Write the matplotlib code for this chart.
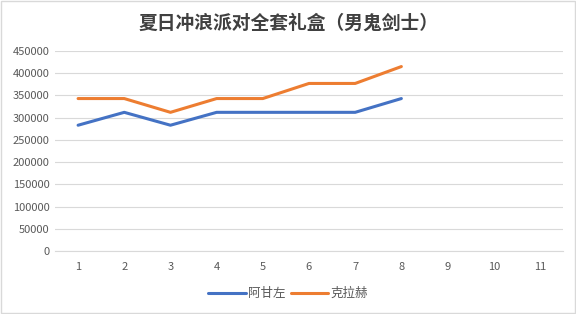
import matplotlib
matplotlib.use("Agg")
import matplotlib.pyplot as plt
from matplotlib.patches import Rectangle

plt.rcParams['font.family'] = ['Noto Sans CJK SC', 'DejaVu Sans']

title = "夏日冲浪派对全套礼盒（男鬼剑士）"
categories = [str(i) for i in range(1, 12)]
series_names = ["阿甘左", "克拉赫"]
agan = [283000, 312000, 283000, 312000, 312000, 312000, 312000, 343000]
kela = [343000, 343000, 312000, 343000, 343000, 377000, 377000, 415000]
yticks = list(range(0, 450001, 50000))

fig = plt.figure(figsize=(5.76, 3.14), dpi=100)
ax = fig.add_axes([55/576, 63/314, (563-55)/576, 200/314])

x = list(range(len(categories)))
ax.plot(x[:len(agan)], agan, color="#4472C4", lw=2.2, label=series_names[0], solid_capstyle='round')
ax.plot(x[:len(kela)], kela, color="#ED7D31", lw=2.2, label=series_names[1], solid_capstyle='round')

ax.set_xlim(-0.5, len(categories) - 0.5)
ax.set_ylim(0, 450000)
ax.set_xticks(x)
ax.set_xticklabels(categories)
ax.set_yticks(yticks)
ax.set_yticklabels([str(v) for v in yticks])
ax.grid(axis='y', color="#D9D9D9", lw=0.8)
ax.set_axisbelow(True)
for s in ["top", "right", "left"]:
    ax.spines[s].set_visible(False)
ax.spines["bottom"].set_color("#D9D9D9")
ax.spines["bottom"].set_linewidth(0.8)
ax.tick_params(axis='both', length=0, colors="#595959", labelsize=8)
ax.tick_params(axis='x', pad=8)
ax.tick_params(axis='y', pad=4)

fig.text(0.5, 0.925, title, ha='center', va='center', fontsize=13.5, fontweight='bold', color="#404040")

leg = fig.legend(loc='center', bbox_to_anchor=(0.5, 0.065), ncol=2, frameon=False,
                 fontsize=9, handlelength=3, handletextpad=0.2, columnspacing=0.4)
for t in leg.get_texts():
    t.set_color("#595959")

fig.patches.append(Rectangle((0.001, 0.002), 0.997, 0.995, transform=fig.transFigure,
                             fill=False, edgecolor="#D9D9D9", lw=1))

fig.savefig("out.png", dpi=100, facecolor="white")
